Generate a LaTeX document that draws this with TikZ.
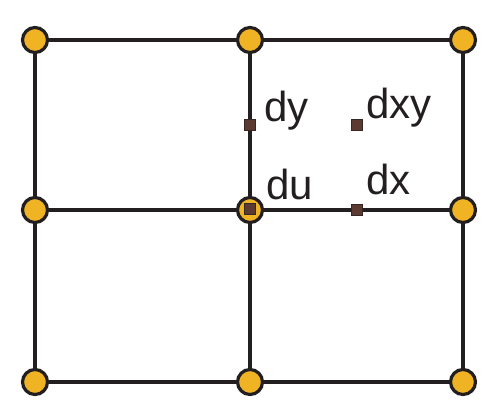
\documentclass[tikz,border=0pt]{standalone}
\usepackage{fontspec}
\setmainfont{Liberation Sans}
\definecolor{dot}{HTML}{F0B323}
\definecolor{ink}{HTML}{231F20}
\definecolor{brn}{HTML}{5C3A31}
\begin{document}
\begin{tikzpicture}[x=1pt,y=-1pt,
  gridpt/.style={circle,draw=ink,fill=dot,line width=3.2pt,minimum size=25pt,inner sep=0pt},
  smallsq/.style={rectangle,draw=ink!70!brn,fill=brn,line width=0.6pt,minimum size=11pt,inner sep=0pt},
  edge/.style={draw=ink,line width=3.2pt},
  lbl/.style={anchor=base west,inner sep=0pt,text=ink,font=\fontsize{42}{50}\selectfont}]
\useasboundingbox (0,0) rectangle (482,408);
\node[gridpt] (a1) at (35,40) {};
\node[gridpt] (a2) at (250,40) {};
\node[gridpt] (a3) at (463,40) {};
\node[gridpt] (b1) at (35,210) {};
\node[gridpt] (b2) at (250,210) {};
\node[gridpt] (b3) at (463,210) {};
\node[gridpt] (c1) at (35,382) {};
\node[gridpt] (c2) at (250,382) {};
\node[gridpt] (c3) at (463,382) {};
\draw[edge] (a1) -- (a2);
\draw[edge] (a2) -- (a3);
\draw[edge] (b1) -- (b2);
\draw[edge] (b2) -- (b3);
\draw[edge] (c1) -- (c2);
\draw[edge] (c2) -- (c3);
\draw[edge] (a1) -- (b1);
\draw[edge] (b1) -- (c1);
\draw[edge] (a2) -- (b2);
\draw[edge] (b2) -- (c2);
\draw[edge] (a3) -- (b3);
\draw[edge] (b3) -- (c3);
\node[smallsq] (du) at (250,209) {};
\node[smallsq] (dy) at (250,125) {};
\node[smallsq] (dxy) at (357,125) {};
\node[smallsq] (dx) at (357,210) {};
\node[lbl] (tdy) at (264,121) {dy};
\node[lbl] (tdxy) at (366,118) {dxy};
\node[lbl] (tdx) at (366,194) {dx};
\node[lbl] (tdu) at (266,199) {du};
\end{tikzpicture}
\end{document}
